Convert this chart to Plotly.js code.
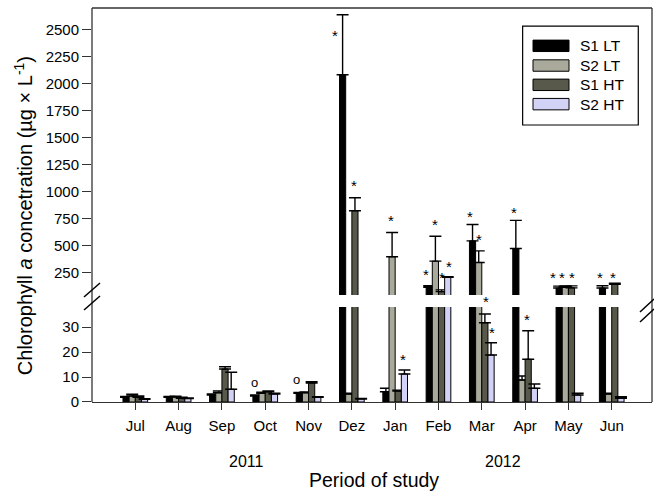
<!DOCTYPE html>
<html>
<head>
<meta charset="utf-8">
<script src="https://cdn.plot.ly/plotly-3.0.1.min.js"></script>
<style>html,body{margin:0;padding:0;background:#fff;}#chart{width:654px;height:492px;}</style>
</head>
<body>
<div id="chart"></div>
<script>
// ---- data ----
var months = ['Jul','Aug','Sep','Oct','Nov','Dez','Jan','Feb','Mar','Apr','May','Jun'];
var seriesNames = ['S1 LT','S2 LT','S1 HT','S2 HT'];
var seriesColors = ['#000000','#a9aa9b','#58594a','#d2d2f6'];

var s1LT    = [1.9, 1.9, 2.8, 2.4, 3.5, 2080, 4.1, 116, 544, 474, 108, 108];
var s1LTerr = [0.3, 0.3, 0.4, 0.4, 0.3, 555, 1.4, 14, 151, 260, 18, 22];
var s2LT    = [2.4, 2.0, 3.7, 3.5, 3.7, 3.2, 397, 357, 345, 8.8, 115, 3.2];
var s2LTerr = [0.7, 0.3, 0.7, 0.4, 0.3, 0.3, 224, 230, 107, 1.6, 12, 0.3];
var s1HT    = [1.9, 1.5, 13.2, 4.1, 7.6, 823, 4.4, 75, 31.7, 17.1, 110, 143];
var s1HTerr = [0.5, 0.4, 0.9, 0.3, 0.5, 120, 0.3, 16, 3.5, 11.4, 18, 9];
var s2HT    = [1.1, 1.4, 5.1, 3.2, 1.9, 1.2, 11.2, 208, 18.8, 5.5, 2.8, 1.5];
var s2HTerr = [0.2, 0.2, 6.8, 0.3, 0.2, 0.2, 1.6, 5, 4.9, 1.7, 0.7, 0.6];

var lowerTicks = [0, 10, 20, 30];
var upperTicks = [250, 500, 750, 1000, 1250, 1500, 1750, 2000, 2250, 2500];

// significance marks: [x position (category index), y value]
var starsUpper = [[4.61,2466],[5.06,1088],[5.91,758],[6.71,259],[6.91,721],[7.08,229],[7.25,337],
                  [7.73,799],[7.94,583],[8.75,836],[9.65,238],[9.86,238],[10.08,238],[10.73,238],[11.04,238]];
var starsLower = [[6.19,18.4],[8.23,29],[9.05,34.4]];
var starsGap   = [[8.09,0.262]];
var circlesLower = [[2.75,7.7],[3.73,8.8]];

var years = ['2011','2012'];
var yearX = [0.276, 0.7336];

// ---- build ----
var values = [s1LT, s2LT, s1HT, s2HT];
var errs = [s1LTerr, s2LTerr, s1HTerr, s2HTerr];
var FONT = 'Liberation Sans, Arial, sans-serif';
var traces = [];
['lower','upper'].forEach(function(panel){
  for (var i = 0; i < 4; i++) {
    traces.push({
      type: 'bar',
      x: months,
      y: values[i],
      name: seriesNames[i],
      xaxis: panel === 'lower' ? 'x' : 'x2',
      yaxis: panel === 'lower' ? 'y' : 'y2',
      marker: {color: seriesColors[i], line: {color: '#000', width: 1}},
      error_y: {type: 'data', array: errs[i], arrayminus: errs[i].map(function(){return 0;}),
                symmetric: false, color: '#000', thickness: 1.4, width: 6},
      showlegend: false,
      hoverinfo: 'skip'
    });
  }
});

var annotations = [];
function mark(x, y, xref, yref, txt, size, shift){
  annotations.push({x: x, y: y, xref: xref, yref: yref, text: txt, showarrow: false,
    xanchor: 'center', yanchor: 'middle', yshift: shift,
    font: {family: FONT, size: size, color: '#000'}});
}
starsUpper.forEach(function(s){ mark(s[0], s[1], 'x2', 'y2', '*', 15, -3); });
starsLower.forEach(function(s){ mark(s[0], s[1], 'x', 'y', '*', 15, -3); });
starsGap.forEach(function(s){ mark(s[0], s[1], 'x', 'paper', '*', 15, -3); });
circlesLower.forEach(function(s){ mark(s[0], s[1], 'x', 'y', 'o', 13, 0); });

years.forEach(function(y, i){
  annotations.push({x: yearX[i], y: -0.1518, xref: 'paper', yref: 'paper', text: y, showarrow: false,
    xanchor: 'center', yanchor: 'middle', font: {family: FONT, size: 16, color: '#000'}});
});
annotations.push({x: 0.5034, y: -0.197, xref: 'paper', yref: 'paper', text: 'Period of study',
  xanchor: 'center', yanchor: 'middle', borderpad: 0,
  showarrow: false, font: {family: FONT, size: 19.5, color: '#000'}});
annotations.push({x: -0.123, y: 0.472, xref: 'paper', yref: 'paper', textangle: -90,
  xanchor: 'center', yanchor: 'middle',
  text: 'Chlorophyll <i>a</i> concetration (µg × L<sup>-1</sup>)',
  showarrow: false, font: {family: FONT, size: 20, color: '#000'}});

// manual legend
var shapes = [];
var legX0 = 0.769, legX1 = 0.9755, legY0 = 0.703, legY1 = 0.954;
shapes.push({type: 'rect', xref: 'paper', yref: 'paper', x0: legX0, x1: legX1, y0: legY0, y1: legY1,
  line: {color: '#000', width: 1.2}, fillcolor: '#fff', layer: 'above'});
var entryY = [0.904, 0.854, 0.805, 0.756];
for (var i = 0; i < 4; i++) {
  shapes.push({type: 'rect', xref: 'paper', yref: 'paper', x0: 0.7875, x1: 0.8518,
    y0: entryY[i] - 0.0145, y1: entryY[i] + 0.0145,
    line: {color: '#000', width: 1}, fillcolor: seriesColors[i], layer: 'above'});
  annotations.push({x: 0.868, y: entryY[i], xref: 'paper', yref: 'paper', xanchor: 'left', yanchor: 'middle',
    text: seriesNames[i], showarrow: false, font: {family: FONT, size: 15.5, color: '#000'}});
}
// frame
var frameColor = '#333';
shapes.push({type: 'line', xref: 'paper', yref: 'paper', x0: 0, x1: 0, y0: 0, y1: 1, line: {color: frameColor, width: 1.3}});
shapes.push({type: 'line', xref: 'paper', yref: 'paper', x0: 0, x1: 1, y0: 1, y1: 1, line: {color: frameColor, width: 1.3}});
shapes.push({type: 'line', xref: 'paper', yref: 'paper', x0: 1, x1: 1, y0: 0, y1: 1, line: {color: frameColor, width: 1.3}});
// break marks (pixel -> paper)
function px(x){ return (x - 92) / 560; }
function py(y){ return (402 - y) / 394; }
[[84,297,100,283],[84,310,100,296],[640,312,654,299],[640,322,654,309]].forEach(function(b){
  shapes.push({type: 'line', xref: 'paper', yref: 'paper', x0: px(b[0]), y0: py(b[1]), x1: px(b[2]), y1: py(b[3]),
    line: {color: '#000', width: 1.5}});
});

var layout = {
  width: 654, height: 492,
  margin: {l: 92, r: 2, t: 8, b: 90},
  paper_bgcolor: '#fff', plot_bgcolor: 'rgba(0,0,0,0)',
  barmode: 'group', bargap: 0.43, bargroupgap: 0,
  font: {family: FONT, color: '#000'},
  showlegend: false,
  xaxis: {type: 'category', anchor: 'y', range: [-1, 11.93], showline: true, linecolor: frameColor, linewidth: 1.3,
    ticks: 'outside', ticklen: 7, tickcolor: frameColor, tickfont: {family: FONT, size: 15},
    ticklabelstandoff: 3, showgrid: false, zeroline: false, fixedrange: true},
  xaxis2: {type: 'category', anchor: 'y2', matches: 'x', range: [-1, 11.93], showticklabels: false,
    ticks: '', showline: false, showgrid: false, zeroline: false},
  yaxis: {domain: [0, 0.2411], range: [0, 38], tickvals: lowerTicks, ticks: 'outside', ticklen: 9,
    tickcolor: frameColor, tickfont: {family: FONT, size: 15}, showgrid: false, zeroline: false, showline: false},
  yaxis2: {domain: [0.2716, 1], range: [44, 2697], tickvals: upperTicks, ticks: 'outside', ticklen: 9,
    tickcolor: frameColor, tickfont: {family: FONT, size: 15}, showgrid: false, zeroline: false, showline: false},
  annotations: annotations,
  shapes: shapes
};

Plotly.newPlot('chart', traces, layout, {displayModeBar: false, staticPlot: true});
</script>
</body>
</html>
